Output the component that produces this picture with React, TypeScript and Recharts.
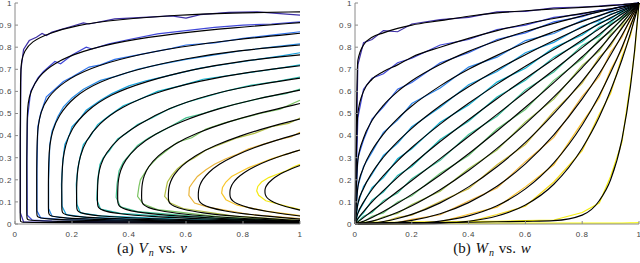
import { LineChart, Line, XAxis, YAxis } from 'recharts';

type Pt = [number, number];

const xTicks = [0, 0.2, 0.4, 0.6, 0.8, 1];
const yTicks = [0, 0.1, 0.2, 0.3, 0.4, 0.5, 0.6, 0.7, 0.8, 0.9, 1];

// (a) V_n vs v : fitted curves, traced from the lower right, round the nose, back to x = 1
const vFit1: Pt[] = [[1, 0.003], [0.51, 0.004], [0.263, 0.005], [0.116, 0.006], [0.057, 0.007], [0.033, 0.008], [0.023, 0.009], [0.019, 0.011], [0.018, 0.02], [0.018, 0.35], [0.019, 0.686], [0.0229, 0.741], [0.0327, 0.782], [0.0573, 0.825], [0.116, 0.862], [0.214, 0.9], [0.362, 0.925], [0.558, 0.945], [0.755, 0.955], [1, 0.96]];
const vFit2: Pt[] = [[1, 0.005], [0.52, 0.0073], [0.281, 0.0095], [0.137, 0.0122], [0.0794, 0.0146], [0.0554, 0.017], [0.0458, 0.0194], [0.042, 0.0225], [0.041, 0.04], [0.041, 0.25], [0.042, 0.476], [0.0458, 0.553], [0.0554, 0.6], [0.0794, 0.665], [0.137, 0.73], [0.233, 0.782], [0.377, 0.828], [0.568, 0.863], [0.76, 0.888], [1, 0.911]];
const vFit3: Pt[] = [[1, 0.006], [0.538, 0.0103], [0.307, 0.0143], [0.168, 0.019], [0.113, 0.0233], [0.0899, 0.0274], [0.0806, 0.0314], [0.0769, 0.0364], [0.076, 0.06], [0.076, 0.2], [0.0769, 0.365], [0.0806, 0.442], [0.0899, 0.506], [0.113, 0.572], [0.168, 0.642], [0.261, 0.705], [0.399, 0.758], [0.584, 0.803], [0.769, 0.834], [1, 0.863]];
const vFit4: Pt[] = [[1, 0.007], [0.5585, 0.0128], [0.338, 0.0181], [0.205, 0.0243], [0.152, 0.0299], [0.13, 0.035], [0.1214, 0.04], [0.118, 0.046], [0.117, 0.07], [0.117, 0.17], [0.118, 0.283], [0.1214, 0.355], [0.13, 0.418], [0.152, 0.49], [0.205, 0.575], [0.294, 0.645], [0.426, 0.7], [0.603, 0.75], [0.779, 0.785], [1, 0.81]];
const vFit5: Pt[] = [[1, 0.008], [0.582, 0.0156], [0.373, 0.022], [0.248, 0.03], [0.197, 0.037], [0.1765, 0.043], [0.168, 0.049], [0.1648, 0.056], [0.164, 0.08], [0.164, 0.15], [0.1648, 0.23], [0.168, 0.294], [0.1765, 0.355], [0.197, 0.43], [0.248, 0.51], [0.331, 0.585], [0.457, 0.645], [0.624, 0.7], [0.791, 0.738], [1, 0.765]];
const vFit6: Pt[] = [[1, 0.009], [0.608, 0.0185], [0.412, 0.0269], [0.294, 0.0365], [0.2474, 0.0446], [0.2278, 0.052], [0.2199, 0.059], [0.2168, 0.067], [0.216, 0.09], [0.216, 0.14], [0.2168, 0.194], [0.2199, 0.248], [0.2278, 0.305], [0.2474, 0.375], [0.294, 0.455], [0.373, 0.53], [0.49, 0.595], [0.647, 0.648], [0.804, 0.685], [1, 0.716]];
const vFit7: Pt[] = [[1, 0.01], [0.6445, 0.023], [0.467, 0.034], [0.36, 0.047], [0.3174, 0.0575], [0.2997, 0.067], [0.2926, 0.075], [0.2897, 0.085], [0.289, 0.11], [0.2897, 0.179], [0.2926, 0.222], [0.2997, 0.266], [0.3174, 0.319], [0.36, 0.386], [0.431, 0.449], [0.538, 0.525], [0.68, 0.585], [0.822, 0.625], [1, 0.66]];
const vFit8: Pt[] = [[1, 0.011], [0.68, 0.0264], [0.52, 0.0397], [0.424, 0.0544], [0.3856, 0.0663], [0.3696, 0.0767], [0.3632, 0.086], [0.3606, 0.096], [0.36, 0.12], [0.3606, 0.17], [0.3632, 0.205], [0.3696, 0.2415], [0.3856, 0.288], [0.424, 0.347], [0.488, 0.406], [0.584, 0.466], [0.712, 0.522], [0.84, 0.565], [1, 0.606]];
const vFit9: Pt[] = [[1, 0.012], [0.722, 0.03], [0.583, 0.045], [0.4996, 0.0615], [0.4662, 0.0745], [0.4523, 0.0855], [0.4468, 0.095], [0.4446, 0.105], [0.444, 0.125], [0.4446, 0.16], [0.4468, 0.187], [0.4523, 0.2176], [0.4662, 0.257], [0.4996, 0.308], [0.555, 0.36], [0.6386, 0.413], [0.7498, 0.464], [0.861, 0.504], [1, 0.545]];
const vFit10: Pt[] = [[1, 0.015], [0.769, 0.0344], [0.6535, 0.0504], [0.5842, 0.0673], [0.5565, 0.0803], [0.5449, 0.091], [0.5403, 0.1], [0.5385, 0.109], [0.538, 0.125], [0.5385, 0.147], [0.5403, 0.167], [0.5449, 0.19], [0.5565, 0.2216], [0.5842, 0.264], [0.6304, 0.309], [0.6997, 0.355], [0.7921, 0.4], [0.8845, 0.437], [1, 0.475]];
const vFit11: Pt[] = [[1, 0.022], [0.8215, 0.0423], [0.7323, 0.0587], [0.6787, 0.0759], [0.6573, 0.0889], [0.6484, 0.0993], [0.6448, 0.108], [0.6434, 0.1164], [0.643, 0.13], [0.6434, 0.144], [0.6448, 0.1587], [0.6484, 0.176], [0.6573, 0.2], [0.6787, 0.234], [0.7144, 0.27], [0.768, 0.308], [0.8394, 0.3465], [0.9108, 0.377], [1, 0.41]];
const vFit12: Pt[] = [[1, 0.036], [0.877, 0.0573], [0.8155, 0.0742], [0.7786, 0.0913], [0.7638, 0.104], [0.7577, 0.114], [0.7552, 0.122], [0.7542, 0.1294], [0.754, 0.14], [0.7542, 0.148], [0.7552, 0.157], [0.7577, 0.168], [0.7638, 0.1844], [0.7786, 0.2076], [0.8032, 0.233], [0.8401, 0.26], [0.8893, 0.288], [0.9385, 0.311], [1, 0.335]];
const vFit13: Pt[] = [[1, 0.063], [0.9385, 0.0822], [0.9078, 0.0972], [0.8893, 0.112], [0.8819, 0.1227], [0.8788, 0.1309], [0.8776, 0.137], [0.8771, 0.1428], [0.877, 0.15], [0.8771, 0.1536], [0.8776, 0.158], [0.8788, 0.164], [0.8819, 0.173], [0.8893, 0.1864], [0.9016, 0.2014], [0.92, 0.218], [0.9446, 0.2353], [0.9693, 0.2496], [1, 0.265]];

// (a) empirical curves (coloured, noisy)
const vEmp1: Pt[] = [[1, 0.004], [0.5, 0.005], [0.12, 0.007], [0.03, 0.01], [0.019, 0.05], [0.019, 0.4], [0.021, 0.7], [0.03, 0.79], [0.05, 0.83], [0.075, 0.845], [0.095, 0.862], [0.11, 0.853], [0.13, 0.868], [0.2, 0.895], [0.24, 0.91], [0.26, 0.905], [0.35, 0.928], [0.45, 0.935], [0.55, 0.942], [0.6, 0.932], [0.65, 0.947], [0.75, 0.958], [0.85, 0.96], [0.93, 0.952], [1, 0.945]];
const vEmp2: Pt[] = [[1, 0.006], [0.5, 0.008], [0.13, 0.013], [0.06, 0.018], [0.043, 0.04], [0.042, 0.3], [0.044, 0.48], [0.055, 0.6], [0.08, 0.66], [0.1, 0.69], [0.14, 0.735], [0.16, 0.725], [0.2, 0.765], [0.25, 0.8], [0.27, 0.792], [0.33, 0.815], [0.4, 0.835], [0.5, 0.86], [0.6, 0.875], [0.7, 0.89], [0.8, 0.9], [0.9, 0.905], [1, 0.915]];
const vEmp3: Pt[] = [[1, 0.008], [0.5, 0.011], [0.17, 0.02], [0.09, 0.028], [0.077, 0.06], [0.077, 0.25], [0.08, 0.44], [0.09, 0.5], [0.11, 0.575], [0.14, 0.61], [0.17, 0.645], [0.2, 0.665], [0.26, 0.71], [0.3, 0.72], [0.35, 0.745], [0.45, 0.77], [0.55, 0.795], [0.6, 0.81], [0.7, 0.82], [0.8, 0.84], [0.9, 0.855], [1, 0.87]];
const vEmp4: Pt[] = [[1, 0.009], [0.5, 0.014], [0.2, 0.025], [0.13, 0.035], [0.118, 0.07], [0.118, 0.2], [0.122, 0.36], [0.13, 0.42], [0.15, 0.485], [0.17, 0.53], [0.2, 0.57], [0.24, 0.61], [0.3, 0.65], [0.36, 0.67], [0.43, 0.7], [0.5, 0.72], [0.6, 0.745], [0.7, 0.765], [0.8, 0.785], [0.9, 0.8], [1, 0.815]];
const vEmp5: Pt[] = [[1, 0.01], [0.55, 0.017], [0.25, 0.03], [0.18, 0.042], [0.165, 0.08], [0.163, 0.18], [0.168, 0.29], [0.175, 0.36], [0.19, 0.4], [0.2, 0.44], [0.23, 0.48], [0.25, 0.515], [0.3, 0.56], [0.34, 0.59], [0.4, 0.625], [0.46, 0.648], [0.55, 0.675], [0.65, 0.705], [0.75, 0.725], [0.85, 0.745], [0.93, 0.76], [1, 0.775]];
const vEmp6: Pt[] = [[1, 0.011], [0.6, 0.02], [0.3, 0.037], [0.23, 0.05], [0.217, 0.09], [0.215, 0.18], [0.22, 0.25], [0.228, 0.3], [0.24, 0.36], [0.26, 0.39], [0.29, 0.45], [0.33, 0.49], [0.38, 0.535], [0.43, 0.56], [0.5, 0.6], [0.58, 0.625], [0.66, 0.655], [0.75, 0.672], [0.85, 0.69], [0.93, 0.705], [1, 0.72]];
const vEmp7: Pt[] = [[1, 0.012], [0.65, 0.025], [0.37, 0.048], [0.3, 0.068], [0.287, 0.11], [0.29, 0.2], [0.298, 0.27], [0.31, 0.3], [0.33, 0.33], [0.36, 0.385], [0.39, 0.41], [0.43, 0.45], [0.48, 0.48], [0.54, 0.52], [0.6, 0.55], [0.68, 0.58], [0.75, 0.605], [0.83, 0.628], [0.92, 0.645], [1, 0.665]];
const vEmp8: Pt[] = [[1, 0.013], [0.7, 0.028], [0.43, 0.056], [0.37, 0.078], [0.355, 0.12], [0.358, 0.18], [0.365, 0.24], [0.38, 0.28], [0.4, 0.31], [0.43, 0.355], [0.47, 0.39], [0.5, 0.41], [0.55, 0.445], [0.6, 0.48], [0.66, 0.5], [0.72, 0.525], [0.8, 0.55], [0.88, 0.575], [0.95, 0.59], [1, 0.61]];
const vEmp9: Pt[] = [[1, 0.014], [0.72, 0.032], [0.5, 0.065], [0.45, 0.09], [0.43, 0.125], [0.435, 0.17], [0.44, 0.2], [0.455, 0.23], [0.47, 0.26], [0.5, 0.3], [0.53, 0.33], [0.57, 0.37], [0.62, 0.39], [0.67, 0.43], [0.73, 0.455], [0.8, 0.48], [0.86, 0.5], [0.93, 0.52], [1, 0.56]];
const vEmp10: Pt[] = [[1, 0.017], [0.77, 0.036], [0.59, 0.07], [0.545, 0.095], [0.525, 0.125], [0.53, 0.16], [0.535, 0.19], [0.55, 0.22], [0.57, 0.25], [0.6, 0.28], [0.63, 0.3], [0.67, 0.335], [0.72, 0.36], [0.78, 0.39], [0.84, 0.41], [0.9, 0.44], [0.96, 0.455], [1, 0.48]];
const vEmp11: Pt[] = [[1, 0.024], [0.82, 0.044], [0.68, 0.075], [0.63, 0.095], [0.61, 0.13], [0.612, 0.165], [0.625, 0.19], [0.64, 0.215], [0.67, 0.245], [0.7, 0.27], [0.74, 0.295], [0.78, 0.315], [0.82, 0.34], [0.87, 0.36], [0.92, 0.38], [0.97, 0.395], [1, 0.415]];
const vEmp12: Pt[] = [[1, 0.038], [0.88, 0.058], [0.78, 0.085], [0.74, 0.11], [0.725, 0.14], [0.728, 0.165], [0.74, 0.19], [0.76, 0.215], [0.79, 0.235], [0.82, 0.255], [0.86, 0.275], [0.9, 0.295], [0.95, 0.315], [1, 0.335]];
const vEmp13: Pt[] = [[1, 0.065], [0.94, 0.085], [0.88, 0.105], [0.855, 0.13], [0.848, 0.15], [0.852, 0.17], [0.865, 0.19], [0.89, 0.21], [0.92, 0.225], [0.95, 0.24], [0.98, 0.26], [1, 0.27]];

const vColors = ['#3d2fa6', '#4148d8', '#2f74ee', '#2a8de6', '#16a0de', '#10b4cf', '#27bcae', '#46c290', '#7cc462', '#b4c046', '#eab53c', '#f8c62c', '#f5e916'];

// (b) W_n vs w : shared w grid, one y list per curve
const wGrid = [0, 0.01, 0.03, 0.06, 0.1, 0.15, 0.2, 0.3, 0.4, 0.5, 0.6, 0.7, 0.8, 0.86, 0.9, 0.94, 0.97, 0.985, 1];
const wFit1 = [0, 0.74, 0.81, 0.845, 0.865, 0.885, 0.9, 0.92, 0.94, 0.955, 0.965, 0.973, 0.98, 0.985, 0.988, 0.992, 0.996, 0.998, 1];
const wFit2 = [0, 0.5, 0.6, 0.655, 0.69, 0.72, 0.755, 0.8, 0.84, 0.875, 0.905, 0.93, 0.953, 0.965, 0.974, 0.983, 0.991, 0.995, 1];
const wFit3 = [0, 0.288, 0.388, 0.468, 0.537, 0.599, 0.648, 0.722, 0.781, 0.829, 0.871, 0.908, 0.942, 0.96, 0.972, 0.983, 0.992, 0.996, 1];
const wFit4 = [0, 0.166, 0.255, 0.334, 0.407, 0.477, 0.534, 0.625, 0.7, 0.763, 0.82, 0.87, 0.917, 0.943, 0.96, 0.976, 0.988, 0.994, 1];
const wFit5 = [0, 0.091, 0.161, 0.232, 0.302, 0.373, 0.433, 0.535, 0.621, 0.698, 0.766, 0.83, 0.89, 0.925, 0.947, 0.968, 0.984, 0.992, 1];
const wFit6 = [0, 0.048, 0.099, 0.156, 0.219, 0.286, 0.346, 0.452, 0.546, 0.633, 0.714, 0.79, 0.863, 0.905, 0.933, 0.96, 0.98, 0.99, 1];
const wFit7 = [0, 0.023, 0.056, 0.1, 0.151, 0.211, 0.267, 0.373, 0.472, 0.567, 0.658, 0.746, 0.833, 0.883, 0.918, 0.95, 0.975, 0.988, 1];
const wFit8 = [0, 0.0095, 0.029, 0.059, 0.098, 0.148, 0.197, 0.296, 0.396, 0.496, 0.597, 0.697, 0.798, 0.858, 0.899, 0.939, 0.97, 0.985, 1];
const wFit9 = [0, 0.0032, 0.0125, 0.0297, 0.0562, 0.0934, 0.134, 0.222, 0.318, 0.421, 0.528, 0.64, 0.757, 0.828, 0.877, 0.926, 0.963, 0.981, 1];
const wFit10 = [0, 0.0008, 0.0044, 0.0128, 0.0282, 0.0529, 0.0826, 0.155, 0.242, 0.342, 0.453, 0.575, 0.708, 0.791, 0.85, 0.909, 0.954, 0.977, 1];
const wFit11 = [0, 0.0001, 0.0011, 0.0041, 0.0112, 0.0247, 0.0434, 0.0956, 0.168, 0.259, 0.369, 0.499, 0.647, 0.745, 0.815, 0.886, 0.942, 0.971, 1];
const wFit12 = [0, 0, 0.0001, 0.0008, 0.0028, 0.0079, 0.0165, 0.0464, 0.0967, 0.171, 0.272, 0.403, 0.566, 0.68, 0.765, 0.854, 0.925, 0.962, 1];
const wFit13 = [0, 0, 0, 0, 0.0003, 0.0011, 0.0031, 0.0131, 0.037, 0.0825, 0.159, 0.277, 0.448, 0.581, 0.685, 0.8, 0.896, 0.947, 1];
const wFit14 = [0, 0, 0, 0, 0, 0.0001, 0.0004, 0.0031, 0.0123, 0.0359, 0.086, 0.18, 0.343, 0.484, 0.604, 0.743, 0.864, 0.93, 1];
const wFit15 = [0.005, 0.005, 0.005, 0.005, 0.006, 0.006, 0.006, 0.007, 0.008, 0.01, 0.012, 0.015, 0.04, 0.105, 0.2, 0.383, 0.623, 0.791, 1];

const wEmp1 = [0, 0.72, 0.82, 0.835, 0.875, 0.87, 0.905, 0.925, 0.935, 0.96, 0.962, 0.978, 0.982, 0.986, 0.99, 0.993, 0.996, 0.998, 1];
const wEmp2 = [0, 0.48, 0.61, 0.66, 0.68, 0.73, 0.75, 0.81, 0.835, 0.88, 0.9, 0.935, 0.95, 0.968, 0.972, 0.985, 0.99, 0.996, 1];
const wEmp3 = [0, 0.3, 0.38, 0.475, 0.53, 0.61, 0.64, 0.73, 0.775, 0.835, 0.865, 0.915, 0.938, 0.963, 0.97, 0.985, 0.99, 0.997, 1];
const wEmp4 = [0, 0.17, 0.26, 0.325, 0.415, 0.47, 0.545, 0.615, 0.71, 0.755, 0.83, 0.862, 0.922, 0.94, 0.963, 0.974, 0.99, 0.993, 1];
const wEmp5 = [0, 0.09, 0.17, 0.225, 0.31, 0.365, 0.44, 0.528, 0.63, 0.69, 0.775, 0.822, 0.895, 0.92, 0.95, 0.965, 0.986, 0.99, 1];
const wEmp6 = [0, 0.05, 0.095, 0.165, 0.21, 0.295, 0.34, 0.46, 0.538, 0.642, 0.705, 0.798, 0.855, 0.91, 0.928, 0.965, 0.978, 0.992, 1];
const wEmp7 = [0, 0.025, 0.05, 0.108, 0.145, 0.22, 0.26, 0.382, 0.465, 0.575, 0.65, 0.755, 0.825, 0.89, 0.912, 0.955, 0.972, 0.99, 1];
const wEmp8 = [0, 0.01, 0.035, 0.052, 0.105, 0.14, 0.205, 0.288, 0.405, 0.488, 0.607, 0.688, 0.808, 0.85, 0.905, 0.933, 0.975, 0.983, 1];
const wEmp9 = [0, 0.004, 0.01, 0.035, 0.05, 0.1, 0.128, 0.23, 0.31, 0.43, 0.518, 0.65, 0.748, 0.835, 0.87, 0.93, 0.958, 0.984, 1];
const wEmp10 = [0, 0.001, 0.006, 0.01, 0.033, 0.048, 0.088, 0.148, 0.25, 0.335, 0.462, 0.565, 0.718, 0.782, 0.858, 0.902, 0.958, 0.974, 1];
const wEmp11 = [0, 0, 0.002, 0.006, 0.009, 0.03, 0.04, 0.102, 0.16, 0.268, 0.36, 0.51, 0.637, 0.755, 0.805, 0.893, 0.937, 0.975, 1];
const wEmp12 = [0, 0, 0, 0.002, 0.004, 0.006, 0.021, 0.042, 0.104, 0.163, 0.282, 0.392, 0.578, 0.668, 0.778, 0.845, 0.932, 0.958, 1];
const wEmp13 = [0, 0, 0, 0, 0.001, 0.002, 0.006, 0.01, 0.044, 0.076, 0.168, 0.268, 0.46, 0.57, 0.698, 0.79, 0.905, 0.942, 1];
const wEmp14 = [0, 0, 0, 0, 0, 0.001, 0.002, 0.006, 0.01, 0.043, 0.08, 0.19, 0.332, 0.497, 0.59, 0.758, 0.852, 0.938, 1];
const wEmp15 = [0.008, 0.008, 0.008, 0.008, 0.009, 0.008, 0.01, 0.009, 0.012, 0.012, 0.015, 0.018, 0.052, 0.095, 0.215, 0.37, 0.64, 0.78, 1];
const wEmp16 = [0.004, 0.004, 0.004, 0.004, 0.004, 0.004, 0.004, 0.004, 0.004, 0.004, 0.004, 0.004, 0.004, 0.004, 0.004, 0.004, 0.005, 0.005, 0.006];

const wColors = ['#3d2fa6', '#4046d6', '#3466ec', '#2d86ea', '#1b9ee0', '#0eb0d2', '#1fbbb8', '#3cc19a', '#68c474', '#9fc34e', '#d0bd3f', '#f2b63d', '#fbc42e', '#f7da1e', '#f6ee12', '#f9fb0e'];

const vFits = [vFit1, vFit2, vFit3, vFit4, vFit5, vFit6, vFit7, vFit8, vFit9, vFit10, vFit11, vFit12, vFit13];
const vEmps = [vEmp1, vEmp2, vEmp3, vEmp4, vEmp5, vEmp6, vEmp7, vEmp8, vEmp9, vEmp10, vEmp11, vEmp12, vEmp13];
const wFits = [wFit1, wFit2, wFit3, wFit4, wFit5, wFit6, wFit7, wFit8, wFit9, wFit10, wFit11, wFit12, wFit13, wFit14, wFit15];
const wEmps = [wEmp1, wEmp2, wEmp3, wEmp4, wEmp5, wEmp6, wEmp7, wEmp8, wEmp9, wEmp10, wEmp11, wEmp12, wEmp13, wEmp14, wEmp15, wEmp16];

const ptRows = (pts: Pt[]) => pts.map(([x, y]) => ({ x, y }));
const gridRows = (ys: number[]) => ys.map((y, i) => ({ x: wGrid[i], y }));

type Series = { x: number; y: number }[];

const AXIS = '#8a8a8a';
const tickStyle = { fontSize: 8, fill: '#444', fontFamily: 'Liberation Sans, Arial, sans-serif', letterSpacing: 0.6 };
const blank = () => '';

function Panel({ fits, emps, colors, fitType, yAxisWidth, marginRight }: {
  fits: Series[]; emps: Series[]; colors: string[]; fitType: 'basis' | 'monotone'; yAxisWidth: number; marginRight: number;
}) {
  return (
    <LineChart width={320} height={263} margin={{ top: 3, right: marginRight, bottom: 19, left: 0 }}>
      <XAxis type="number" dataKey="x" domain={[0, 1]} ticks={xTicks} interval={0} height={20}
        tickSize={-3} tickMargin={10} axisLine={{ stroke: AXIS }} tickLine={{ stroke: AXIS }} tick={tickStyle} />
      <XAxis xAxisId="top" orientation="top" type="number" dataKey="x" domain={[0, 1]} ticks={xTicks} interval={0} height={0}
        tickSize={-3} axisLine={{ stroke: AXIS }} tickLine={{ stroke: AXIS }} tickFormatter={blank} />
      <YAxis type="number" domain={[0, 1]} ticks={yTicks} interval={0} width={yAxisWidth}
        tickSize={-3} tickMargin={6} axisLine={{ stroke: AXIS }} tickLine={{ stroke: AXIS }} tick={tickStyle} />
      <YAxis yAxisId="right" orientation="right" type="number" domain={[0, 1]} ticks={yTicks} interval={0} width={0}
        tickSize={-3} axisLine={{ stroke: AXIS }} tickLine={{ stroke: AXIS }} tickFormatter={blank} />
      {emps.map((d, i) => (
        <Line key={'e' + i} data={d} dataKey="y" type="linear" stroke={colors[i]} strokeWidth={1.2}
          dot={false} activeDot={false} isAnimationActive={false} />
      ))}
      {fits.map((d, i) => (
        <Line key={'f' + i} data={d} dataKey="y" type={fitType} stroke="#000" strokeWidth={1.15}
          dot={false} activeDot={false} isAnimationActive={false} />
      ))}
    </LineChart>
  );
}

const capStyle: React.CSSProperties = {
  position: 'absolute', top: 240, fontFamily: '"Liberation Serif", "DejaVu Serif", serif', fontSize: 15,
  lineHeight: '16px', color: '#111', textAlign: 'center', whiteSpace: 'nowrap', wordSpacing: 1,
};
const sub: React.CSSProperties = { fontSize: 10, fontStyle: 'italic', verticalAlign: -3, marginLeft: 1 };

export default function App() {
  return (
    <div style={{ position: 'absolute', left: 0, top: 0, width: 640, height: 263, background: '#fff', overflow: 'hidden' }}>
      <div style={{ position: 'absolute', left: 0, top: 0 }}>
        <Panel fits={vFits.map(ptRows)} emps={vEmps.map(ptRows)} colors={vColors} fitType="basis" yAxisWidth={15} marginRight={20} />
      </div>
      <div style={{ position: 'absolute', left: 320, top: 0 }}>
        <Panel fits={wFits.map(gridRows)} emps={wEmps.map(gridRows)} colors={wColors} fitType="monotone" yAxisWidth={35} marginRight={1} />
      </div>
      <div style={{ ...capStyle, left: 57, width: 190 }}>
        (a) <i>V</i><span style={sub}>n</span> vs. <i>v</i>
      </div>
      <div style={{ ...capStyle, left: 397, width: 190 }}>
        (b) <i>W</i><span style={sub}>n</span> vs. <i>w</i>
      </div>
    </div>
  );
}
